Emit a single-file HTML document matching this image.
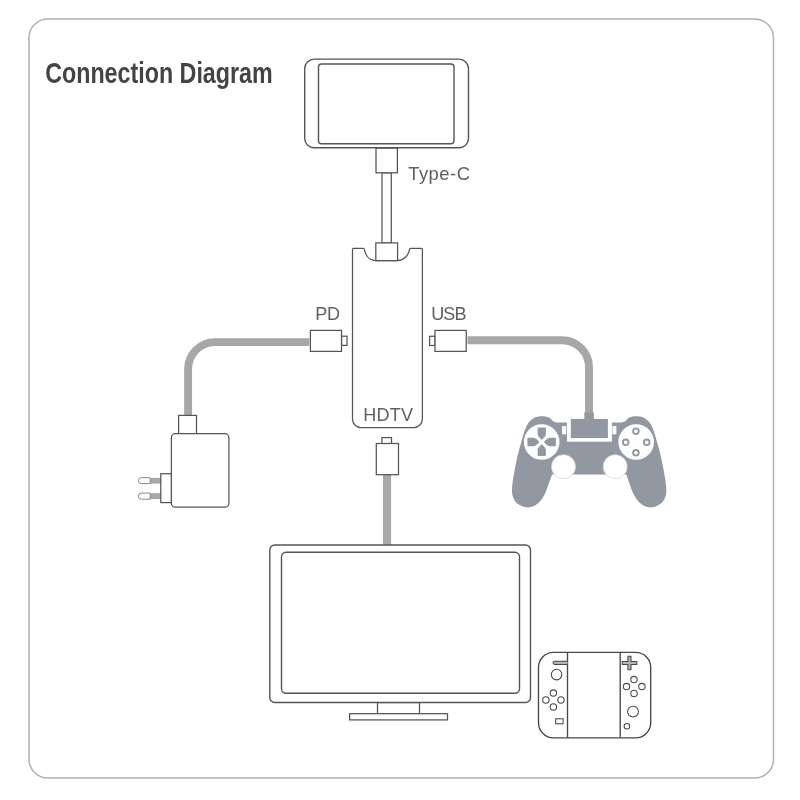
<!DOCTYPE html>
<html><head><meta charset="utf-8"><title>Connection Diagram</title>
<style>
html,body{margin:0;padding:0;background:#fff;}
body{width:800px;height:800px;overflow:hidden;font-family:"Liberation Sans",sans-serif;}
svg{display:block;will-change:transform;}
.o{fill:#fff;stroke:#555;stroke-width:1.25;}
.n{fill:none;stroke:#5a5a5a;stroke-width:1.35;}
.lbl{font-family:"Liberation Sans",sans-serif;font-size:18px;fill:#606060;letter-spacing:0.3px;}
.cab{fill:none;stroke:#a7a7a7;stroke-width:7.9;}
.gp{fill:#9298a1;}
</style></head>
<body>
<svg width="800" height="800" viewBox="0 0 800 800">
<rect width="800" height="800" fill="#fff"/>
<!-- frame -->
<rect x="29" y="19" width="744.5" height="759.1" rx="19" ry="19" fill="#fff" stroke="#b0b0b0" stroke-width="1.5"/>
<!-- title -->
<text x="45.2" y="83.2" font-family="Liberation Sans, sans-serif" font-weight="bold" font-size="29.2" fill="#444" textLength="227.5" lengthAdjust="spacingAndGlyphs">Connection Diagram</text>

<!-- phone -->
<rect class="o" x="304.7" y="59.1" width="163.8" height="88.7" rx="9.5" ry="9.5" style="stroke-width:1.4"/>
<rect class="o" x="318.5" y="64" width="135.5" height="79.8" rx="3" ry="3" style="stroke-width:1.4"/>
<!-- type-c cable -->
<rect class="o" x="382" y="172.8" width="9.3" height="70.1"/>
<rect class="o" x="376" y="148.2" width="21.4" height="24.6"/>
<text class="lbl" x="408.2" y="180.3" style="font-size:18.4px;letter-spacing:0.5px">Type-C</text>

<!-- hub -->
<path class="o" d="M353.5 248.4 H363.2 Q364.2 248.4 364.4 249.6 C365.6 255.5 369.5 260.6 375.8 260.6 H397.6 C403.9 260.6 408.3 255.5 409.5 249.6 Q409.7 248.4 410.7 248.4 H421.4 Q422.4 248.4 422.4 249.4 V419 A8.5 8.5 0 0 1 413.9 427.5 H361 A8.5 8.5 0 0 1 352.5 419 V249.4 Q352.5 248.4 353.5 248.4 Z"/>
<rect class="o" x="375.8" y="242.9" width="21.8" height="17.7"/>
<text class="lbl" x="363.2" y="421.2">HDTV</text>

<!-- PD -->
<path class="cab" d="M309.3 342.1 H215.1 A27 27 0 0 0 188.1 369.1 V416"/>
<rect class="o" x="341.5" y="336.2" width="5.5" height="9.2"/>
<rect class="o" x="310.4" y="330.4" width="31.1" height="21"/>
<text class="lbl" x="315.3" y="319.8" style="letter-spacing:-0.2px">PD</text>

<!-- charger -->
<rect class="o" x="178.6" y="415.4" width="17.9" height="18.4"/>
<rect class="o" x="171.4" y="433.7" width="57.5" height="73.5" rx="4" ry="4"/>
<rect x="149.5" y="477.9" width="11.5" height="5.7" fill="#a7a7a7"/>
<rect x="149.5" y="493.2" width="11.5" height="5.9" fill="#a7a7a7"/>
<path d="M150.2 477.7 H141.4 A2.95 2.95 0 0 0 141.4 483.6 H150.2 Z" fill="#fff" stroke="#888" stroke-width="1"/>
<path d="M150.2 493.1 H141.4 A3.05 3.05 0 0 0 141.4 499.2 H150.2 Z" fill="#fff" stroke="#888" stroke-width="1"/>
<rect class="o" x="160.8" y="473.7" width="10.5" height="28.9"/>

<!-- USB -->
<path class="cab" d="M467.5 340.2 H562 A27 27 0 0 1 589 367.2 V413.5"/>
<rect class="o" x="429.6" y="336.3" width="5.4" height="9.2"/>
<rect class="o" x="435" y="330.4" width="31.2" height="21"/>
<text class="lbl" x="431.2" y="319.8" style="letter-spacing:-0.9px">USB</text>

<!-- gamepad -->
<g>
<path class="gp" d="M556.3 422.4 C555.8 422.3 554.5 422.1 553.6 421.6 C552.8 421.1 552.1 419.9 551.2 419.2 C550.4 418.5 550.0 417.7 548.5 417.2 C547.0 416.7 544.2 416.2 542.0 416.2 C539.8 416.2 537.6 416.3 535.5 417.2 C533.4 418.1 531.2 419.5 529.5 421.5 C527.8 423.5 526.7 425.6 525.3 429.0 C523.9 432.4 522.6 437.3 521.3 442.0 C520.0 446.7 518.5 451.7 517.3 457.0 C516.1 462.3 514.9 468.6 514.0 473.7 C513.1 478.8 512.3 483.7 512.1 487.4 C511.9 491.1 511.8 493.1 512.6 495.7 C513.4 498.3 514.8 501.3 517.0 503.2 C519.2 505.1 522.8 506.8 525.6 507.3 C528.4 507.8 531.4 507.1 533.9 506.0 C536.4 504.9 538.5 503.1 540.5 500.8 C542.5 498.5 544.2 495.3 545.6 492.3 C547.0 489.3 547.9 486.0 549.0 483.0 C550.1 480.0 551.5 475.8 552.0 474.4 L626.3 474.4 C626.8 475.8 628.2 480.0 629.3 483.0 C630.4 486.0 631.3 489.3 632.7 492.3 C634.1 495.3 635.8 498.5 637.8 500.8 C639.8 503.1 641.9 504.9 644.4 506.0 C646.9 507.1 649.9 507.8 652.7 507.3 C655.5 506.8 659.1 505.1 661.3 503.2 C663.5 501.3 664.9 498.3 665.7 495.7 C666.5 493.1 666.4 491.1 666.2 487.4 C666.0 483.7 665.2 478.8 664.3 473.7 C663.4 468.6 662.2 462.3 661.0 457.0 C659.8 451.7 658.3 446.7 657.0 442.0 C655.7 437.3 654.4 432.4 653.0 429.0 C651.6 425.6 650.5 423.5 648.8 421.5 C647.1 419.5 644.9 418.1 642.8 417.2 C640.7 416.3 638.5 416.2 636.3 416.2 C634.1 416.2 631.3 416.7 629.8 417.2 C628.3 417.7 627.9 418.5 627.1 419.2 C626.2 419.9 625.5 421.1 624.7 421.6 C623.8 422.1 622.5 422.3 622.0 422.4 Z"/>
<circle cx="541.7" cy="442" r="17.8" fill="#fff"/>
<circle cx="636.2" cy="442" r="17.8" fill="#fff"/>
<circle cx="563.5" cy="466.7" r="12" fill="#fff" stroke="#d4d6da" stroke-width="0.8"/>
<circle cx="615.2" cy="466.7" r="12" fill="#fff" stroke="#d4d6da" stroke-width="0.8"/>
<rect x="567" y="418.8" width="44.9" height="22.9" fill="#fff"/>
<rect x="570.8" y="418.9" width="37.1" height="19.2" class="gp"/>
<rect x="584.3" y="412.5" width="9.6" height="7" class="gp"/>
<rect x="562.1" y="426.1" width="4.2" height="8.2" fill="#fff"/>
<rect x="612.4" y="426.1" width="4" height="8.2" fill="#fff"/>
<!-- dpad -->
<g class="gp">
<path d="M538.3 427.4 H545.1 Q545.9 427.4 545.9 428.2 V434 C545.9 436 543.5 438 541.7 439.8 C539.9 438 537.6 436 537.6 434 V428.2 Q537.6 427.4 538.3 427.4 Z"/>
<path d="M538.3 455.9 H545.1 Q545.9 455.9 545.9 455.1 V449.8 C545.9 447.8 543.5 446 541.7 444.2 C539.9 446 537.6 447.8 537.6 449.8 V455.1 Q537.6 455.9 538.3 455.9 Z"/>
<path d="M527.4 438.6 V445.4 Q527.4 446.2 528.2 446.2 H533.7 C535.7 446.2 537.7 443.8 539.5 442 C537.7 440.2 535.7 437.8 533.7 437.8 H528.2 Q527.4 437.8 527.4 438.6 Z"/>
<path d="M555.9 438.6 V445.4 Q555.9 446.2 555.1 446.2 H549.7 C547.7 446.2 545.7 443.8 543.9 442 C545.7 440.2 547.7 437.8 549.7 437.8 H555.1 Q555.9 437.8 555.9 438.6 Z"/>
</g>
<g fill="#fff" stroke="#9298a1" stroke-width="1.9">
<circle cx="635.9" cy="431.2" r="2.8"/>
<circle cx="625.7" cy="442.3" r="2.8"/>
<circle cx="646.7" cy="442.3" r="2.8"/>
<circle cx="635.9" cy="452.8" r="2.8"/>
</g>
</g>

<!-- HDMI -->
<rect x="383" y="474" width="8.1" height="71" fill="#a9a9a9"/>
<rect class="o" x="381.9" y="437.6" width="9.6" height="6"/>
<rect class="o" x="376.3" y="443.5" width="22.2" height="31.2"/>

<!-- TV -->
<rect class="o" x="377.5" y="702.5" width="42" height="11.2"/>
<rect class="o" x="349.6" y="713.7" width="97.9" height="6.2"/>
<rect class="o" x="269.8" y="545" width="260.7" height="157.5" rx="5" ry="5" style="stroke-width:1.4"/>
<rect class="o" x="281.5" y="552.2" width="238" height="141" rx="4.5" ry="4.5" style="stroke-width:1.4"/>

<!-- switch -->
<g stroke="#484848" stroke-width="1.35" fill="#fff">
<rect x="538.5" y="652.3" width="112.2" height="85.5" rx="15" ry="15"/>
<line x1="567.5" y1="652.3" x2="567.5" y2="737.8"/>
<line x1="620.2" y1="652.3" x2="620.2" y2="737.8"/>
</g>
<g stroke="#484848" stroke-width="1.05" fill="#fff">
<path d="M567.5 661.3 H554.6 A1.55 1.55 0 0 0 554.6 664.4 H567.5" fill="#b4b4b4"/>
<circle cx="556.6" cy="674.6" r="5.3"/>
<circle cx="553.4" cy="693.1" r="3.2"/>
<circle cx="545.9" cy="700" r="3.2"/>
<circle cx="561" cy="700" r="3.2"/>
<circle cx="553.4" cy="706.9" r="3.2"/>
<rect x="555.7" y="718.8" width="7.4" height="5"/>
<path fill="#b4b4b4" d="M627.9 656.2 H631 V661.4 H636.8 V664.5 H631 V669.7 H627.9 V664.5 H622.3 V661.4 H627.9 Z"/>
<circle cx="634" cy="679.6" r="3.2"/>
<circle cx="626.5" cy="686.6" r="3.2"/>
<circle cx="641.9" cy="686.6" r="3.2"/>
<circle cx="634" cy="693.5" r="3.2"/>
<circle cx="633" cy="711.6" r="5.4"/>
<circle cx="626.9" cy="726.2" r="2.8"/>
</g>
</svg>
</body></html>
